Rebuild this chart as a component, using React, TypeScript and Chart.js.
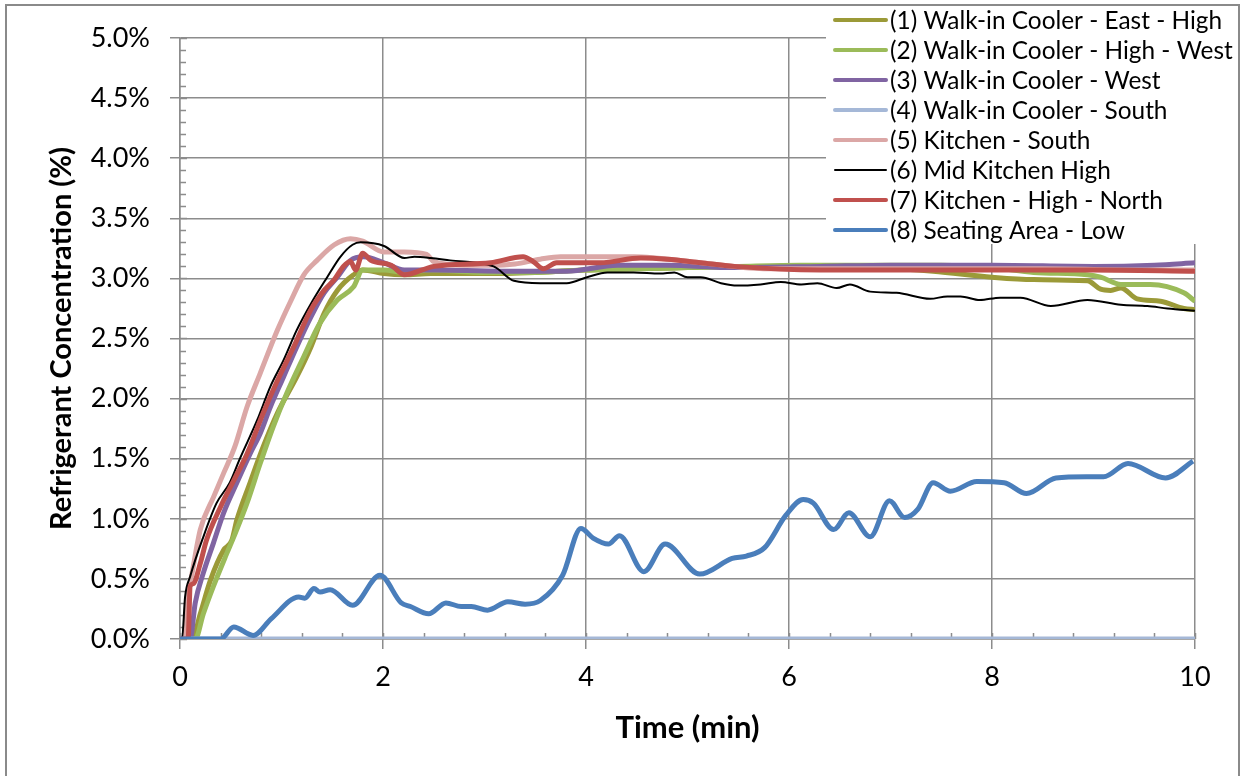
import React, { useEffect, useRef } from 'react';
import { Chart, registerables } from 'chart.js';

Chart.register(...registerables);

const FONT = 'Lato, "Open Sans", sans-serif';

// [time (min), concentration (%)]
const walkInEastHigh: number[][] = [
  [0, 0], [0.12, 0], [0.2, 0.21], [0.3, 0.49], [0.43, 0.74], [0.51, 0.82], [0.56, 0.99], [0.69, 1.3],
  [0.82, 1.6], [0.96, 1.88], [1.15, 2.18], [1.29, 2.43], [1.42, 2.71], [1.55, 2.9], [1.71, 3.03],
  [1.8, 3.07], [2.01, 3.04], [2.21, 3.03], [2.47, 3.04], [3.0, 3.04], [3.5, 3.05], [3.98, 3.07],
  [4.5, 3.08], [5.0, 3.09], [5.5, 3.1], [6.11, 3.1], [6.8, 3.09], [7.42, 3.06], [8.0, 3.01],
  [8.41, 2.99], [8.94, 2.98], [9.07, 2.91], [9.17, 2.9], [9.27, 2.92], [9.43, 2.83], [9.66, 2.81],
  [9.89, 2.75], [10, 2.74],
];

const walkInHighWest: number[][] = [
  [0, 0], [0.15, 0], [0.23, 0.21], [0.33, 0.44], [0.46, 0.71], [0.53, 0.85], [0.66, 1.13], [0.79, 1.46],
  [0.92, 1.77], [1.05, 2.04], [1.22, 2.35], [1.38, 2.63], [1.55, 2.82], [1.71, 2.93], [1.8, 3.07],
  [2.01, 3.07], [2.21, 3.05], [2.47, 3.07], [3.0, 3.05], [3.5, 3.05], [3.98, 3.07], [4.5, 3.08],
  [5.0, 3.09], [5.5, 3.1], [6.11, 3.11], [6.8, 3.11], [7.5, 3.11], [8.0, 3.09], [8.41, 3.05],
  [8.94, 3.03], [9.07, 3.01], [9.27, 2.95], [9.56, 2.95], [9.89, 2.88], [10, 2.81],
];

const walkInWest: number[][] = [
  [0, 0], [0.1, 0], [0.15, 0.3], [0.23, 0.55], [0.33, 0.8], [0.43, 1.05], [0.56, 1.3], [0.69, 1.54],
  [0.79, 1.71], [0.89, 1.93], [1.02, 2.18], [1.15, 2.43], [1.29, 2.68], [1.42, 2.88], [1.55, 3.01],
  [1.68, 3.15], [1.81, 3.18], [2.01, 3.13], [2.21, 3.07], [2.5, 3.07], [3.15, 3.06], [3.81, 3.06],
  [4.31, 3.11], [4.8, 3.11], [5.46, 3.09], [6.31, 3.1], [7.0, 3.11], [8.0, 3.11], [9.0, 3.1],
  [9.6, 3.11], [10, 3.13],
];

const walkInSouth: number[][] = [
  [0, 0], [10, 0],
];

const kitchenSouth: number[][] = [
  [0, 0], [0.04, 0], [0.07, 0.3], [0.12, 0.55], [0.2, 0.91], [0.33, 1.18], [0.43, 1.38], [0.54, 1.6],
  [0.66, 1.93], [0.79, 2.21], [0.96, 2.57], [1.09, 2.81], [1.22, 3.03], [1.35, 3.15], [1.52, 3.28],
  [1.68, 3.33], [1.8, 3.31], [2.01, 3.22], [2.21, 3.22], [2.43, 3.2], [2.5, 3.14], [2.8, 3.11],
  [3.06, 3.11], [3.3, 3.12], [3.55, 3.16], [3.75, 3.18], [4.47, 3.18], [5.13, 3.13], [5.79, 3.08],
  [6.5, 3.08], [7.5, 3.08], [8.5, 3.08], [9.5, 3.07], [10, 3.07],
];

const midKitchenHigh: number[][] = [
  [0, 0], [0.02, 0], [0.05, 0.35], [0.1, 0.52], [0.23, 0.85], [0.36, 1.13], [0.49, 1.3], [0.59, 1.5],
  [0.76, 1.82], [0.89, 2.1], [1.02, 2.32], [1.15, 2.57], [1.29, 2.79], [1.45, 3.01], [1.58, 3.18],
  [1.7, 3.28], [1.78, 3.3], [2.01, 3.27], [2.21, 3.17], [2.31, 3.18], [2.47, 3.17], [2.66, 3.15],
  [3.09, 3.1], [3.29, 2.98], [3.55, 2.96], [3.81, 2.96], [4.01, 3.01], [4.21, 3.05], [4.47, 3.05],
  [4.73, 3.04], [4.87, 3.05], [5.0, 3.01], [5.13, 3.01], [5.33, 2.96], [5.49, 2.94], [5.72, 2.95],
  [5.92, 2.97], [6.12, 2.95], [6.28, 2.96], [6.47, 2.92], [6.6, 2.95], [6.8, 2.89], [7.06, 2.88],
  [7.39, 2.83], [7.56, 2.85], [7.69, 2.85], [7.88, 2.82], [8.08, 2.84], [8.28, 2.84], [8.58, 2.77],
  [8.94, 2.82], [9.27, 2.78], [9.53, 2.77], [9.73, 2.75], [10, 2.73],
];

const kitchenHighNorth: number[][] = [
  [0, 0], [0.08, 0], [0.1, 0.44], [0.13, 0.46], [0.2, 0.63], [0.26, 0.82], [0.4, 1.1], [0.53, 1.32],
  [0.66, 1.54], [0.82, 1.88], [0.96, 2.15], [1.12, 2.43], [1.29, 2.74], [1.42, 2.9], [1.52, 2.99],
  [1.61, 3.1], [1.68, 3.14], [1.73, 3.07], [1.8, 3.21], [1.88, 3.15], [2.08, 3.11], [2.21, 3.03],
  [2.5, 3.1], [3.06, 3.13], [3.38, 3.18], [3.48, 3.14], [3.58, 3.08], [3.71, 3.13], [4.14, 3.13],
  [4.54, 3.17], [4.8, 3.16], [5.13, 3.13], [5.46, 3.1], [6.31, 3.07], [7.0, 3.07], [8.0, 3.07],
  [9.0, 3.07], [10, 3.06],
];

const seatingAreaLow: number[][] = [
  [0, 0], [0.4, 0], [0.53, 0.1], [0.72, 0.03], [0.9, 0.17], [1.17, 0.35], [1.23, 0.34], [1.32, 0.42],
  [1.38, 0.39], [1.48, 0.41], [1.7, 0.28], [1.97, 0.53], [2.18, 0.3], [2.27, 0.27], [2.45, 0.21],
  [2.62, 0.3], [2.77, 0.27], [2.87, 0.27], [3.03, 0.24], [3.23, 0.31], [3.4, 0.29], [3.55, 0.32],
  [3.77, 0.53], [3.95, 0.92], [4.07, 0.84], [4.22, 0.79], [4.33, 0.86], [4.57, 0.56], [4.78, 0.79],
  [5.12, 0.54], [5.44, 0.67], [5.58, 0.69], [5.76, 0.76], [5.97, 1.03], [6.14, 1.16], [6.24, 1.13],
  [6.44, 0.91], [6.59, 1.05], [6.8, 0.85], [6.99, 1.15], [7.14, 1.01], [7.27, 1.08], [7.42, 1.3],
  [7.59, 1.23], [7.85, 1.31], [8.12, 1.3], [8.34, 1.21], [8.63, 1.34], [8.93, 1.35], [9.1, 1.35],
  [9.34, 1.46], [9.71, 1.34], [9.98, 1.48],
];

const seriesLabels = [
  '(1) Walk-in Cooler - East - High',
  '(2) Walk-in Cooler - High - West',
  '(3) Walk-in Cooler - West',
  '(4) Walk-in Cooler - South',
  '(5) Kitchen - South',
  '(6) Mid Kitchen High',
  '(7) Kitchen - High - North',
  '(8) Seating Area - Low',
];
const seriesData = [
  walkInEastHigh, walkInHighWest, walkInWest, walkInSouth,
  kitchenSouth, midKitchenHigh, kitchenHighNorth, seatingAreaLow,
];
const seriesColors = ['#9b9a38', '#9bbb59', '#8064a2', '#a5b8d7', '#dba7a6', '#000000', '#c0504d', '#4a7ebb'];
const seriesWidths = [5, 5, 5, 5, 5, 2, 5, 5];

const GRID = '#8c8c8c';

// Minor tick marks on the inside of both axes, plus the inward half of major y ticks
const axisTicks = {
  id: 'axisTicks',
  beforeDatasetsDraw(chart: any) {
    const { ctx, chartArea, scales } = chart;
    const x = scales.x;
    const y = scales.y;
    ctx.save();
    ctx.strokeStyle = GRID;
    ctx.lineWidth = 1.5;
    ctx.beginPath();
    for (let v = 0; v <= 5.0001; v += 0.1) {
      const py = Math.round(y.getPixelForValue(v)) + 0.5;
      const major = Math.abs(v * 2 - Math.round(v * 2)) < 1e-6;
      ctx.moveTo(chartArea.left, py);
      ctx.lineTo(chartArea.left + (major ? 7 : 6), py);
    }
    for (let t = 0; t <= 10.0001; t += 0.4) {
      const px = Math.round(x.getPixelForValue(t)) + 0.5;
      ctx.moveTo(px, chartArea.bottom);
      ctx.lineTo(px, chartArea.bottom - 6);
    }
    ctx.stroke();
    ctx.restore();
  },
};

// Legend box laid over the top-right corner, and the outer frame of the chart
const overlayLegend = {
  id: 'overlayLegend',
  afterDraw(chart: any) {
    const { ctx } = chart;
    ctx.save();
    ctx.fillStyle = '#ffffff';
    ctx.fillRect(826, 7, 411, 237);
    ctx.font = `24.4px ${FONT}`;
    ctx.textBaseline = 'middle';
    ctx.textAlign = 'left';
    chart.data.datasets.forEach((ds: any, i: number) => {
      const cy = 20 + i * 30;
      ctx.strokeStyle = ds.borderColor;
      ctx.lineWidth = ds.borderWidth > 2 ? 4 : 2;
      ctx.lineCap = 'round';
      ctx.beginPath();
      ctx.moveTo(835, cy);
      ctx.lineTo(886, cy);
      ctx.stroke();
      ctx.fillStyle = '#000000';
      ctx.fillText(ds.label, 890, cy + 1);
    });
    ctx.strokeStyle = '#8a8a8a';
    ctx.lineWidth = 2;
    ctx.strokeRect(6, 5, 1233, 800);
    ctx.restore();
  },
};

export default function App() {
  const canvasRef = useRef<HTMLCanvasElement | null>(null);

  useEffect(() => {
    document.body.style.margin = '0';
    const canvas = canvasRef.current;
    if (!canvas) return;

    const chart = new Chart(canvas, {
      type: 'line',
      data: {
        datasets: seriesData.map((pts, i) => ({
          label: seriesLabels[i],
          data: pts.map(([t, c]) => ({ x: t, y: c })),
          borderColor: seriesColors[i],
          backgroundColor: seriesColors[i],
          borderWidth: seriesWidths[i],
          pointRadius: 0,
          cubicInterpolationMode: 'monotone' as const,
          fill: false,
          order: seriesData.length - i,
        })),
      },
      options: {
        responsive: false,
        animation: false,
        layout: { padding: { top: 38, right: 50, left: 44, bottom: 0 } },
        plugins: {
          legend: { display: false },
          tooltip: { enabled: false },
        },
        scales: {
          x: {
            type: 'linear',
            min: 0,
            max: 10,
            afterFit: (scale: any) => { scale.height = 137; },
            ticks: {
              stepSize: 2,
              color: '#000',
              padding: 12,
              maxRotation: 0,
              font: { family: FONT, size: 27 },
            },
            grid: { color: GRID, lineWidth: 1.5, tickLength: 10, tickColor: GRID },
            border: { color: GRID, width: 1.5 },
            title: {
              display: true,
              text: 'Time (min)',
              color: '#000',
              font: { family: FONT, size: 31, weight: 'bold' },
              padding: { top: 0, bottom: 29 },
            },
          },
          y: {
            type: 'linear',
            min: 0,
            max: 5,
            afterFit: (scale: any) => { scale.width = 180 - 44; },
            ticks: {
              stepSize: 0.5,
              color: '#000',
              padding: 20,
              font: { family: FONT, size: 27 },
              callback: (v: any) => Number(v).toFixed(1) + '%',
            },
            grid: { color: GRID, lineWidth: 1.5, tickLength: 10, tickColor: GRID },
            border: { color: GRID, width: 1.5 },
            title: {
              display: true,
              text: 'Refrigerant Concentration (%)',
              color: '#000',
              font: { family: FONT, size: 29, weight: 'bold' },
              padding: { top: 0, bottom: 0 },
            },
          },
        },
      },
      plugins: [axisTicks, overlayLegend],
    });

    return () => chart.destroy();
  }, []);

  return (
    <div style={{ width: 1245, height: 776, background: '#fff' }}>
      <canvas ref={canvasRef} width={1245} height={776} style={{ display: 'block' }} />
    </div>
  );
}
